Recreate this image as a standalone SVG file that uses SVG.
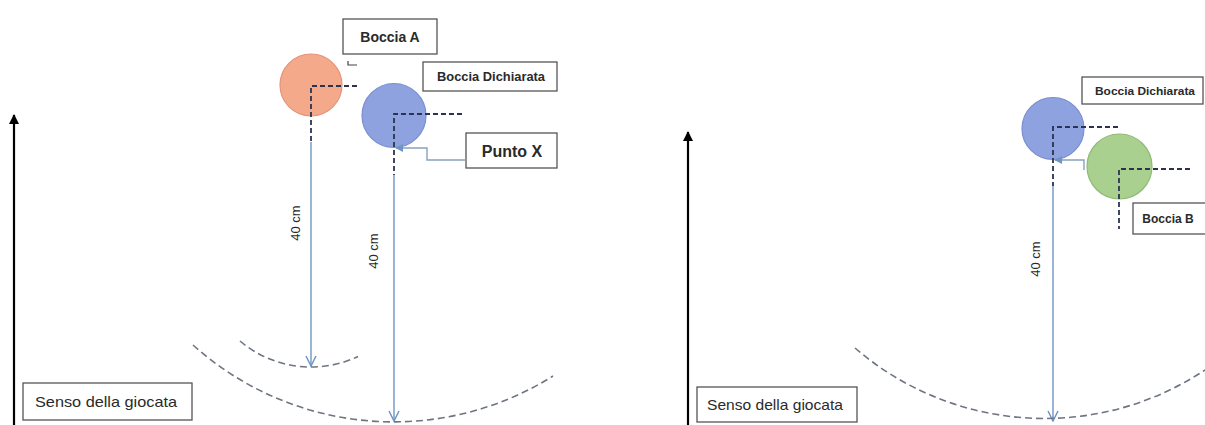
<svg xmlns="http://www.w3.org/2000/svg" width="1205" height="425" viewBox="0 0 1205 425">
<style>
.box{fill:#fff;stroke:#555;stroke-width:1.3}
.lbl{font-family:"Liberation Sans",Arial,sans-serif;fill:#2a2a2a;text-anchor:middle}
.b{font-weight:bold}
.guide{fill:none;stroke:#2b3350;stroke-width:1.8;stroke-dasharray:5,3}
.meas{fill:none;stroke:#6f95c4;stroke-width:1.4}
.arc{fill:none;stroke:#6e7580;stroke-width:1.6;stroke-dasharray:7,4}
.pointer{fill:none;stroke:#8aa0bc;stroke-width:1.4}
.dir{stroke:#000;stroke-width:2.2}
</style>
<defs>
<marker id="vopen" viewBox="0 0 12 12" refX="11" refY="6" markerWidth="12" markerHeight="12" markerUnits="userSpaceOnUse" orient="auto">
<path d="M1,1 L11,6 L1,11" fill="none" stroke="#6f95c4" stroke-width="1.5"/>
</marker>
<marker id="tri" viewBox="0 0 10 10" refX="9" refY="5" markerWidth="8" markerHeight="8" markerUnits="userSpaceOnUse" orient="auto">
<path d="M0,0 L10,5 L0,10 Z" fill="#6f95c4"/>
</marker>
<marker id="blk" viewBox="0 0 10 10" refX="9" refY="5" markerWidth="12" markerHeight="10" markerUnits="userSpaceOnUse" orient="auto">
<path d="M0,0 L10,5 L0,10 Z" fill="#000"/>
</marker>
</defs>
<rect width="1205" height="425" fill="#fff"/>

<g id="left-panel">
<g id="ball-a">
<circle cx="311" cy="85" r="31" fill="#f4a98a" stroke="#e5937a" stroke-width="1.2"/>
</g>
<g id="ball-declared-left">
<circle cx="394" cy="115.5" r="32" fill="#8da2de" stroke="#7a8fd0" stroke-width="1.2"/>
</g>
<g id="label-boccia-a">
<rect class="box" x="343" y="19" width="94" height="35"/>
<text class="lbl b" x="390" y="42" font-size="14">Boccia A</text>
</g>
<path d="M348,61 V65 H357" fill="none" stroke="#444" stroke-width="1.2"/>
<g id="label-dichiarata-left">
<rect class="box" x="423" y="62" width="134" height="29"/>
<text class="lbl b" x="491" y="81" font-size="12.5" textLength="108" lengthAdjust="spacingAndGlyphs">Boccia Dichiarata</text>
</g>
<g id="label-punto-x">
<rect class="box" x="466" y="133" width="91" height="35"/>
<text class="lbl b" x="512" y="156.5" font-size="16">Punto X</text>
</g>
<g id="label-senso-left">
<rect class="box" x="23" y="383" width="169" height="37"/>
<text class="lbl" x="106" y="407" font-size="15" textLength="142" lengthAdjust="spacingAndGlyphs">Senso della giocata</text>
</g>
<g id="label-40-a">
<text class="lbl" transform="translate(300,223) rotate(-90)" font-size="13">40 cm</text>
</g>
<g id="label-40-b">
<text class="lbl" transform="translate(378,251) rotate(-90)" font-size="13">40 cm</text>
</g>
</g>

<g id="right-panel">
<g id="ball-declared-right">
<circle cx="1053" cy="128.5" r="31" fill="#8da2de" stroke="#7a8fd0" stroke-width="1.2"/>
</g>
<g id="ball-b">
<circle cx="1119.5" cy="166.5" r="32.5" fill="#a9d08e" stroke="#8fbb74" stroke-width="1.2"/>
</g>
<g id="label-dichiarata-right">
<rect class="box" x="1082" y="77" width="121" height="27"/>
<text class="lbl b" x="1145" y="95" font-size="11.5" textLength="100" lengthAdjust="spacingAndGlyphs">Boccia Dichiarata</text>
</g>
<g id="label-boccia-b">
<rect class="box" x="1133" y="203" width="80" height="31"/>
<text class="lbl b" x="1168" y="223" font-size="12">Boccia B</text>
</g>
<g id="label-senso-right">
<rect class="box" x="697" y="387" width="160" height="35"/>
<text class="lbl" x="775" y="410" font-size="14.5" textLength="136" lengthAdjust="spacingAndGlyphs">Senso della giocata</text>
</g>
<g id="label-40-c">
<text class="lbl" transform="translate(1040,259) rotate(-90)" font-size="13">40 cm</text>
</g>
</g>

<g id="connectors">
<line class="dir" x1="14" y1="425" x2="14" y2="115" marker-end="url(#blk)"/>
<line class="dir" x1="688" y1="425" x2="688" y2="132" marker-end="url(#blk)"/>
<path class="guide" d="M357,86 H311 V142"/>
<path class="guide" d="M462,114 H394 V175"/>
<path class="guide" d="M1118,127 H1053 V186"/>
<path class="guide" d="M1190,169 H1119 V229"/>
<line class="meas" x1="311" y1="142" x2="311" y2="366" marker-end="url(#vopen)"/>
<line class="meas" x1="394" y1="175" x2="394" y2="421" marker-end="url(#vopen)"/>
<line class="meas" x1="1053" y1="186" x2="1053" y2="421" marker-end="url(#vopen)"/>
<path class="pointer" d="M466,160 H427 V148 H396" marker-end="url(#tri)"/>
<path class="pointer" d="M1084,170 V160 H1055" marker-end="url(#tri)"/>
<path class="arc" d="M240,341 A110,110 0 0 0 358,356.5"/>
<path class="arc" d="M193,345 A300,300 0 0 0 553,376"/>
<path class="arc" d="M855,348 A290,290 0 0 0 1205,370"/>
</g>
</svg>
